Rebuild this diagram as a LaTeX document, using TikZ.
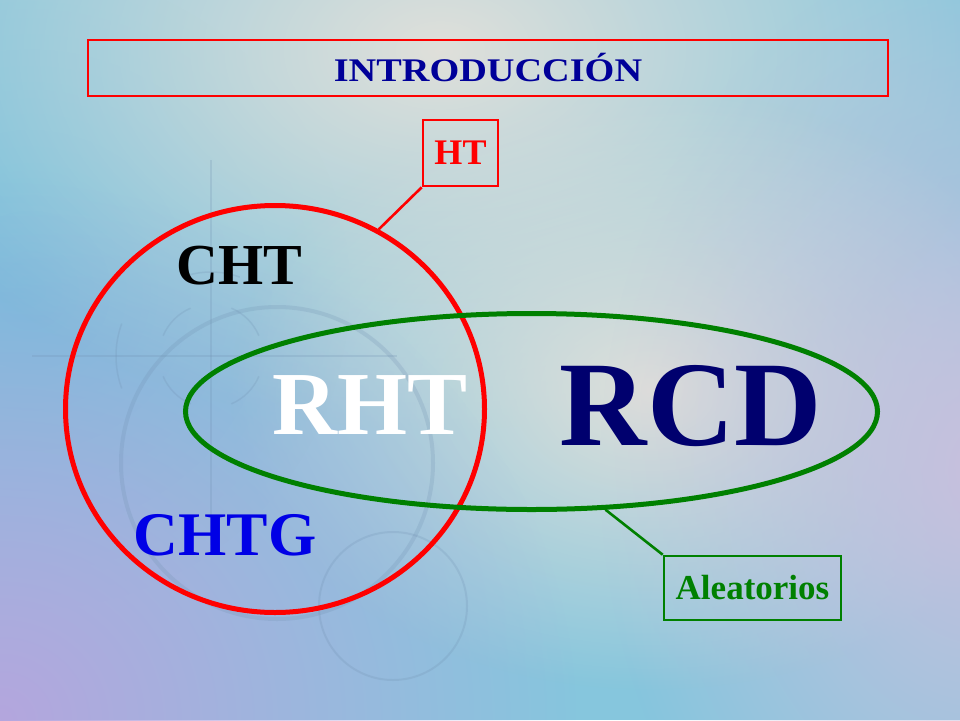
\documentclass[tikz,border=0pt]{standalone}
\usepackage{fontspec}
\setmainfont{Liberation Serif}
\usetikzlibrary{shapes.geometric,fadings}
\tikzfading[name=blob, inner color=transparent!0, outer color=transparent!100]
\definecolor{bgbase}{HTML}{86C6DD}
\definecolor{bgpale}{HTML}{E0E0DA}
\definecolor{bgpurple}{HTML}{B4A6DE}
\definecolor{bglav}{HTML}{C8C0DE}
\definecolor{bgcyan}{HTML}{72BEDC}
\definecolor{decocol}{HTML}{6F8FAF}
\definecolor{titleblue}{HTML}{000099}
\definecolor{rcdnavy}{HTML}{00006E}
\definecolor{chtgblue}{HTML}{0000E6}
\definecolor{htred}{HTML}{FF0000}
\definecolor{algreen}{HTML}{008000}
\begin{document}
\begin{tikzpicture}[x=1pt,y=-1pt,
  deco/.style={draw=decocol, opacity=0.22, line width=2},
  bigtext/.style={inner sep=0, font=\bfseries},
  labelbox/.style={draw, line width=2.6, inner sep=0, font=\bfseries}]
\useasboundingbox (0,0) rectangle (960,720);
% background
\begin{scope}
\clip (0,0) rectangle (960,720);
\fill[bgbase] (0,0) rectangle (960,720);
\fill[bgcyan, path fading=blob] (30,290) ellipse (320 and 320);
\fill[bgpale, path fading=blob] (440,50) ellipse (580 and 380);
\fill[bgpale, path fading=blob] (650,390) ellipse (420 and 300);
\fill[bgpurple, path fading=blob] (0,720) ellipse (580 and 540);
\fill[bglav, path fading=blob] (980,470) ellipse (380 and 520);
% decorative marks
\draw[deco] (211,160) -- (211,545);
\draw[deco] (32,356) -- (397,356);
\draw[deco, line width=4] (277,463) circle (156);
\draw[deco] (393,606) circle (74);
\foreach \a in {45,135,225,315}
  \draw[deco, line width=1.5] (211,356) ++(\a-22:52) arc[start angle=\a-22, end angle=\a+22, radius=52];
\draw[deco, line width=1.5] (211,356) ++(160:95) arc[start angle=160, end angle=200, radius=95];
\draw[deco, line width=1.5] (211,356) ++(250:84) arc[start angle=250, end angle=290, radius=84];
\end{scope}
% title
\node[draw=htred, line width=1.2, minimum width=800, minimum height=56, inner sep=0,
      text=titleblue, font=\bfseries\fontsize{33}{33}\selectfont] (title) at (488,68)
      {\scalebox{1.16}[1]{INTRODUCCIÓN}};
% sets
\node[draw=htred, line width=5, ellipse, minimum width=419, minimum height=407, inner sep=0] (htset) at (275,409) {};
\node[draw=algreen, line width=5, ellipse, minimum width=692, minimum height=196, inner sep=0] (rset) at (531.5,411.5) {};
% text labels
\node[bigtext, text=black, font=\bfseries\fontsize{58}{58}\selectfont] (cht) at (239,266) {CHT};
\node[bigtext, text=white, font=\bfseries\fontsize{90}{90}\selectfont] (rht) at (370,405) {RHT};
\node[bigtext, text=rcdnavy, font=\bfseries\fontsize{121}{121}\selectfont] (rcd) at (691,406) {RCD};
\node[bigtext, text=chtgblue, font=\bfseries\fontsize{62}{62}\selectfont] (chtg) at (225,535) {CHTG};
% callouts
\node[labelbox, draw=htred, text=htred, minimum width=75, minimum height=66,
      font=\bfseries\fontsize{36}{36}\selectfont] (ht) at (460.5,153) {HT};
\draw[htred, line width=2.6] (ht.south west) -- (htset.60);
\node[labelbox, draw=algreen, text=algreen, minimum width=177, minimum height=64,
      font=\bfseries\fontsize{35}{35}\selectfont] (alea) at (752.5,588) {Aleatorios};
\draw[algreen, line width=2.6] (alea.north west) -- (rset.-53);
\end{tikzpicture}
\end{document}
